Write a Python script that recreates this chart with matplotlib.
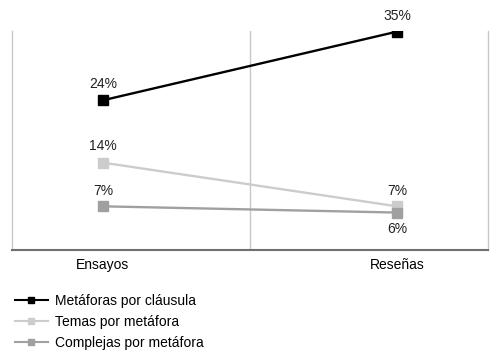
import matplotlib
matplotlib.use("Agg")
import matplotlib.pyplot as plt
from matplotlib.lines import Line2D

plt.rcParams['font.family'] = ['Liberation Sans Narrow', 'Liberation Sans', 'DejaVu Sans']

categories = ["Ensayos", "Reseñas"]
metaforas_clausula = [24, 35]
temas_metafora = [14, 7]
complejas_metafora = [7, 6]

# (name, values, colour, label offsets in points; negative = below)
series = [
    ("Metáforas por cláusula", metaforas_clausula, "#000000", [7, 6]),
    ("Temas por metáfora", temas_metafora, "#cccccc", [7, 6]),
    ("Complejas por metáfora", complejas_metafora, "#a0a0a0", [6, -7]),
]

fig = plt.figure(figsize=(5, 3.6), dpi=100)
ax = fig.add_axes([12 / 500, 1 - 250 / 360, 476 / 500, 219 / 360])

x = list(range(len(categories)))
for name, vals, color, offs in series:
    ax.plot(x, vals, color=color, lw=1.7, marker="s", ms=7, label=name, zorder=3)
    for xi, v, off in zip(x, vals, offs):
        ax.annotate(f"{v}%", (xi, v), xytext=(0, off), textcoords="offset points",
                    ha="center", va="bottom" if off > 0 else "top",
                    fontsize=10, color="#222222")

ax.set_xlim(-0.3095, 1.3095)
ax.set_ylim(0, 35.1)
ax.axvline(0.5, color="#c8c8c8", lw=1, zorder=1)
ax.set_yticks([])
ax.set_xticks(x)
ax.set_xticklabels(categories, fontsize=10)
ax.tick_params(axis="x", length=0, pad=6)
for side in ["left", "right"]:
    ax.spines[side].set_color("#c8c8c8")
    ax.spines[side].set_linewidth(1)
ax.spines["top"].set_visible(False)
ax.spines["bottom"].set_color("#707070")
ax.spines["bottom"].set_linewidth(1.5)

handles = [Line2D([0], [0], color=c, lw=1.5, marker="s", ms=4) for _, _, c, _ in series]
fig.legend(handles, [s[0] for s in series], loc="upper left",
           bbox_to_anchor=(0.01, 1 - 284 / 360), frameon=False, fontsize=10,
           handlelength=2.4, handletextpad=0.5, labelspacing=0.5, borderaxespad=0.3)

fig.savefig("out.png", dpi=100)
